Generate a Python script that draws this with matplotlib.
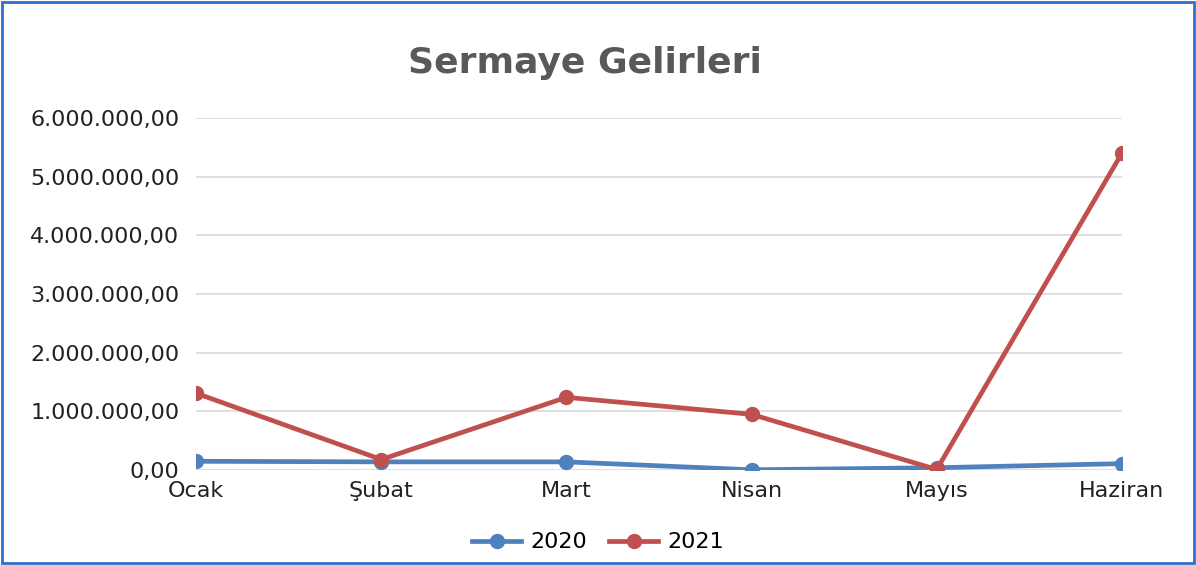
import numpy as np
import matplotlib.pyplot as plt
from matplotlib.patches import Rectangle
from matplotlib.ticker import FuncFormatter

months = ['Ocak', 'Şubat', 'Mart', 'Nisan', 'Mayıs', 'Haziran']
vals_2020 = [150000, 140000, 140000, 5000, 40000, 110000]
vals_2021 = [1310000, 180000, 1240000, 950000, 10000, 5400000]
yticks = [0, 1000000, 2000000, 3000000, 4000000, 5000000, 6000000]

def tr_fmt(v, pos):
    # turkish style number: 1.000.000,00
    s = '{:,.2f}'.format(v)
    return s.replace(',', 'X').replace('.', ',').replace('X', '.')

fig = plt.figure(figsize=(11.96, 5.65), dpi=100)
ax = fig.add_axes([0.164, 0.168, 0.774, 0.623])

x = np.arange(len(months))
ax.plot(x, vals_2020, color='#4F81BD', lw=3.4, marker='o', ms=10, label='2020')
ax.plot(x, vals_2021, color='#C0504D', lw=3.4, marker='o', ms=10, label='2021')

ax.set_xlim(0, len(months) - 1)
ax.set_ylim(0, 6000000)
ax.set_yticks(yticks)
ax.yaxis.set_major_formatter(FuncFormatter(tr_fmt))
ax.set_xticks(x)
ax.set_xticklabels(months)
ax.tick_params(axis='both', length=0, labelsize=16, colors='#222222')
ax.tick_params(axis='y', pad=12)
ax.tick_params(axis='x', pad=8)
ax.grid(axis='y', color='#D9D9D9', lw=1.2)
ax.set_axisbelow(True)
for sp in ax.spines.values():
    sp.set_visible(False)

fig.text(0.489, 0.871, 'Sermaye Gelirleri', ha='center', va='baseline',
         fontsize=26, fontweight='bold', color='#595959')

fig.legend(loc='center', bbox_to_anchor=(0.5, 0.04), ncol=2, frameon=False,
           fontsize=16, handlelength=2.2, columnspacing=1.0, handletextpad=0.4)

fig.patches.append(Rectangle((0.002, 0.004), 0.996, 0.992, transform=fig.transFigure,
                             fill=False, edgecolor='#2F6FCC', lw=2))

fig.savefig('out.png', dpi=100)
